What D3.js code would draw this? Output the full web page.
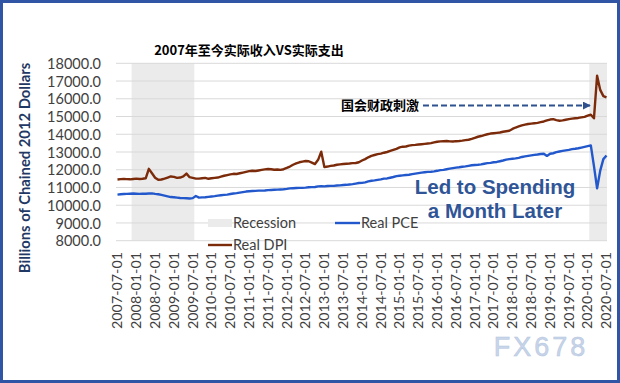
<!DOCTYPE html>
<html><head><meta charset="utf-8">
<script src="https://cdn.jsdelivr.net/npm/d3@7"></script>
<style>html,body{margin:0;padding:0;background:#fff;}svg{display:block;}</style>
</head><body>
<svg id="c" width="620" height="383"></svg>
<script>
// ---- DATA ----
const startMonth = "2007-07";
const realDPI = [
 11450,11470,11480,11470,11460,11480,
 11500,11480,11490,11520,12050,11800,11550,11430,11450,11500,11560,11620,
 11600,11540,11560,11620,11780,11580,11540,11500,11500,11520,11540,11490,
 11520,11540,11560,11610,11660,11700,11740,11770,11760,11800,11840,11880,
 11920,11940,11930,11960,11990,12020,12040,12030,12000,12010,11990,12030,
 12100,12180,12280,12360,12420,12460,12490,12480,12400,12320,12560,13020,
 12150,12180,12220,12240,12280,12300,12320,12340,12350,12370,12380,12420,
 12520,12600,12700,12780,12830,12880,12910,12960,13000,13060,13120,13180,
 13260,13300,13310,13360,13390,13400,13420,13440,13460,13480,13500,13540,
 13580,13600,13610,13620,13600,13590,13610,13620,13640,13670,13690,13740,
 13800,13860,13900,13950,14000,14040,14060,14080,14100,14140,14170,14200,
 14300,14380,14440,14500,14540,14580,14600,14620,14640,14680,14720,14780,
 14830,14850,14800,14760,14780,14820,14850,14880,14900,14920,14950,14980,
 15050,15100,14900,17300,16500,16150,16080
];
const realPCE = [
 10600,10620,10630,10640,10650,10660,
 10650,10640,10650,10650,10660,10670,10640,10620,10580,10540,10500,10460,
 10450,10430,10410,10400,10390,10380,10400,10520,10430,10440,10450,10470,
 10490,10510,10540,10560,10580,10600,10630,10660,10680,10710,10740,10770,
 10790,10800,10810,10820,10820,10830,10850,10860,10870,10880,10890,10900,
 10920,10950,10960,10970,10980,10980,10990,11010,11020,11030,11060,11070,
 11060,11080,11090,11090,11110,11120,11140,11150,11170,11190,11220,11250,
 11260,11290,11340,11380,11400,11430,11460,11500,11510,11550,11590,11640,
 11660,11680,11700,11720,11750,11780,11810,11840,11860,11880,11890,11910,
 11940,11980,11990,12030,12060,12090,12120,12140,12170,12190,12220,12250,
 12270,12280,12300,12340,12370,12390,12420,12440,12480,12520,12570,12600,
 12620,12640,12670,12720,12750,12780,12810,12840,12860,12890,12900,12780,
 12900,12930,12990,13030,13060,13090,13120,13160,13180,13210,13250,13290,
 13330,13370,12200,10950,11950,12600,12800
];
const recessions = [["2007-12","2009-07"],["2020-02","2020-07"]];
const yTicks = [8000,9000,10000,11000,12000,13000,14000,15000,16000,17000,18000];
const xTickLabels = ["2007-07-01","2008-01-01","2008-07-01","2009-01-01","2009-07-01","2010-01-01","2010-07-01","2011-01-01","2011-07-01","2012-01-01","2012-07-01","2013-01-01","2013-07-01","2014-01-01","2014-07-01","2015-01-01","2015-07-01","2016-01-01","2016-07-01","2017-01-01","2017-07-01","2018-01-01","2018-07-01","2019-01-01","2019-07-01","2020-01-01","2020-07-01"];
const title = "2007年至今实际收入VS实际支出";
const yTitle = "Billions of Chained 2012 Dollars";
const seriesNames = ["Recession","Real PCE","Real DPI"];
const annotation = "国会财政刺激";
const note = ["Led to Spending","a Month Later"];
const watermark = "FX678";

// ---- CHART ----
const svg = d3.select("#c");
const W = 620, H = 383;
const parseM = d3.timeParse("%Y-%m");
const parseD = d3.timeParse("%Y-%m-%d");
const t0 = parseM(startMonth);
const monthIdx = dt => d3.timeMonth.count(t0, dt);

const x = d3.scaleLinear().domain([0, realDPI.length-1]).range([117.5, 606.5]);
const y = d3.scaleLinear().domain([8000,18000]).range([240.7, 63.3]);
const plotL = 116, plotR = 607;
const step = x(1)-x(0);

// frame
svg.append("rect").attr("x",1.5).attr("y",1.5).attr("width",W-3).attr("height",H-3)
  .attr("fill","#fff").attr("stroke","#2F55A4").attr("stroke-width",3);

// recession shading
recessions.forEach(([a,b])=>{
  const i0 = monthIdx(parseM(a)), i1 = monthIdx(parseM(b));
  svg.append("rect").attr("x", x(i0)-step/2).attr("y", y(18000))
    .attr("width", Math.min(x(i1)+step/2, plotR) - (x(i0)-step/2))
    .attr("height", y(8000)-y(18000)).attr("fill","#EBEBEB");
});

// gridlines
svg.append("g").selectAll("line").data(yTicks).join("line")
  .attr("x1",plotL).attr("x2",plotR).attr("y1",d=>y(d)).attr("y2",d=>y(d))
  .attr("stroke","#D9D9D9").attr("stroke-width",1);

// y axis
const yAxis = d3.axisLeft(y).tickValues(yTicks).tickFormat(d3.format(".1f")).tickSize(0).tickPadding(0);
const gy = svg.append("g").attr("transform","translate(101,0)").call(yAxis);
gy.select(".domain").remove();
gy.selectAll("text").attr("font-family","Lato, 'Open Sans', sans-serif").attr("font-size",14.5).attr("fill","#404040").attr("dy","0.35em");

// x axis labels
const xlab = svg.append("g");
xTickLabels.forEach(s=>{
  const i = monthIdx(parseD(s));
  xlab.append("text").attr("transform",`translate(${x(i)+4.8},252) rotate(-90)`)
    .attr("text-anchor","end").attr("font-family","Lato, 'Open Sans', sans-serif")
    .attr("font-size",14.3).attr("fill","#404040").text(s);
});

// lines
const line = d3.line().x((d,i)=>x(i)).y(d=>y(d));
svg.append("path").datum(realPCE).attr("d",line).attr("fill","none")
  .attr("stroke","#2258CC").attr("stroke-width",2.4).attr("stroke-linejoin","round");
svg.append("path").datum(realDPI).attr("d",line).attr("fill","none")
  .attr("stroke","#7B2A0A").attr("stroke-width",2.4).attr("stroke-linejoin","round");

// title
svg.append("text").attr("x",249).attr("y",55).attr("text-anchor","middle")
  .attr("font-family","'Noto Sans CJK SC', sans-serif").attr("font-weight","bold")
  .attr("font-size",13).attr("fill","#000").text(title);

// y title
svg.append("text").attr("transform","translate(30,168) rotate(-90)").attr("text-anchor","middle")
  .attr("font-family","Lato, 'Open Sans', sans-serif").attr("font-weight","bold")
  .attr("font-size",14.8).attr("fill","#1F3864").text(yTitle);

// legend
const lg = svg.append("g").attr("font-family","Lato, 'Open Sans', sans-serif").attr("font-size",14.5).attr("fill","#404040");
lg.append("rect").attr("x",208).attr("y",219).attr("width",24).attr("height",8).attr("fill","#EBEBEB");
lg.append("text").attr("x",233).attr("y",228).text(seriesNames[0]);
lg.append("line").attr("x1",335).attr("x2",360).attr("y1",223).attr("y2",223).attr("stroke","#2258CC").attr("stroke-width",2.4);
lg.append("text").attr("x",361).attr("y",228).text(seriesNames[1]);
lg.append("line").attr("x1",208).attr("x2",232).attr("y1",245).attr("y2",245).attr("stroke","#7B2A0A").attr("stroke-width",2.4);
lg.append("text").attr("x",233).attr("y",250).text(seriesNames[2]);

// annotation
svg.append("text").attr("x",341).attr("y",110)
  .attr("font-family","'Noto Sans CJK SC', sans-serif").attr("font-weight","bold")
  .attr("font-size",13).attr("fill","#000").text(annotation);
svg.append("defs").append("marker").attr("id","ah").attr("viewBox","0 0 10 10")
  .attr("refX",9).attr("refY",5).attr("markerWidth",4).attr("markerHeight",4).attr("orient","auto")
  .append("path").attr("d","M0,0L10,5L0,10z").attr("fill","#2F528F");
svg.append("line").attr("x1",423).attr("x2",590).attr("y1",105.5).attr("y2",105.5)
  .attr("stroke","#2F528F").attr("stroke-width",2).attr("stroke-dasharray","6,3")
  .attr("marker-end","url(#ah)");

// note
const nt = svg.append("g").attr("font-family","'Liberation Sans', Arial, sans-serif").attr("font-weight","bold")
  .attr("font-size",20.5).attr("fill","#2F5597").attr("text-anchor","middle");
nt.append("text").attr("x",495).attr("y",194).text(note[0]);
nt.append("text").attr("x",495).attr("y",218).text(note[1]);

// watermark
svg.append("text").attr("x",541).attr("y",356).attr("text-anchor","middle")
  .attr("font-family","'Liberation Sans', Arial, sans-serif").attr("font-size",27)
  .attr("letter-spacing",3).attr("fill","#C8D5EA").attr("stroke","#B5C5DE").attr("stroke-width",0.5).text(watermark);
</script>
</body></html>
